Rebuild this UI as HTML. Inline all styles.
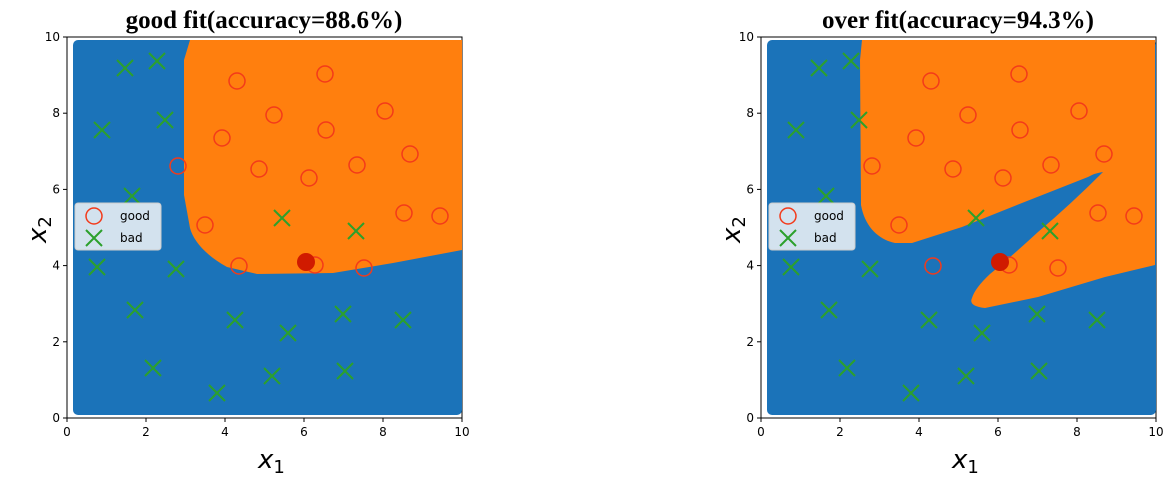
<!DOCTYPE html>
<html><head><meta charset="utf-8"><style>
body{margin:0;background:#fff;width:1169px;height:487px;overflow:hidden}
svg text{font-family:"DejaVu Sans","Liberation Sans",sans-serif}
</style></head><body>
<svg id="s" width="1169" height="487" viewBox="0 0 1169 487" xmlns="http://www.w3.org/2000/svg">
<g id="p1">
<rect x="67" y="37" width="395" height="381" fill="#fff" stroke="#000" stroke-width="1"/>
<rect x="73" y="40" width="389" height="375" rx="5" fill="#1b73b9"/>
<path d="M190,40 L462,40 L462,250 L393,263 L333,273 L257,274 L227,267 C205,255 193,240 190,228 L184,195 L184,60 Z" fill="#ff7f0e"/>
<text x="264" y="28" text-anchor="middle" style="font-family:'Liberation Serif',serif;font-weight:bold;font-size:25px">good fit(accuracy=88.6%)</text>
</g>
<g id="p2">
<rect x="761" y="37" width="395" height="381" fill="#fff" stroke="#000" stroke-width="1"/>
<rect x="767" y="40" width="389" height="375" rx="5" fill="#1b73b9"/>
<path d="M862,40 L1155,40 L1155,265 L1105,277 L1038,297 L985,308 Q968,306 972,298 Q975,288 990,274 Q1012,256 1038,232 Q1070,205 1103,172 Q1095,173 1088,177 L1022,203 L962,227 L912,243 L895,243 C880,240 865,228 861,205 L860,60 Z" fill="#ff7f0e"/>
<text x="958" y="28" text-anchor="middle" style="font-family:'Liberation Serif',serif;font-weight:bold;font-size:25px">over fit(accuracy=94.3%)</text>
</g>
<g id="marks"></g>
<g id="axes" font-size="12" fill="#000"></g>
</svg>
<script>
var ns="http://www.w3.org/2000/svg",m=document.getElementById('marks'),ax=document.getElementById('axes');
function el(t,a,p){var e=document.createElementNS(ns,t);for(var k in a)e.setAttribute(k,a[k]);(p||m).appendChild(e);return e;}
var circ=[[237,81],[325,74],[222,138],[274,115],[326,130],[385,111],[178,166],[259,169],[309,178],[357,165],[410,154],[205,225],[404,213],[440,216],[239,266],[315,265],[364,268]];
var crs=[[125,68],[157,61],[102,130],[165,120],[132,196],[282,218],[356,231],[97,267],[176,269],[135,310],[235,320],[288,333],[343,314],[403,320],[153,368],[272,376],[345,371],[217,393]];
[0,694].forEach(function(o){
 circ.forEach(function(c){el('circle',{cx:c[0]+o,cy:c[1],r:8,fill:'none',stroke:'#f33a1a','stroke-width':1.5});});
 crs.forEach(function(c){var x=c[0]+o,y=c[1];el('path',{d:'M'+(x-8)+','+(y-8)+'L'+(x+8)+','+(y+8)+'M'+(x+8)+','+(y-8)+'L'+(x-8)+','+(y+8),stroke:'#2ca02c','stroke-width':2});});
 el('circle',{cx:306+o,cy:262,r:9,fill:'#d01a00'});
 el('rect',{x:75+o,y:203,width:86,height:47,rx:3,fill:'#e8eef4','fill-opacity':0.9,stroke:'#ccc'});
 el('circle',{cx:94+o,cy:216,r:8,fill:'none',stroke:'#f33a1a','stroke-width':1.5});
 el('path',{d:'M'+(86+o)+',230L'+(102+o)+',246M'+(102+o)+',230L'+(86+o)+',246',stroke:'#2ca02c','stroke-width':2});
 var t=el('text',{x:120+o,y:220,'font-size':12});t.textContent='good';
 t=el('text',{x:120+o,y:242,'font-size':12});t.textContent='bad';
 for(var i=0;i<=5;i++){
  var x=67+o+i*79,y=418-i*76.2;
  el('line',{x1:x,y1:418,x2:x,y2:422,stroke:'#000'},ax);
  t=el('text',{x:x,y:436,'text-anchor':'middle'},ax);t.textContent=i*2;
  el('line',{x1:63+o,y1:y,x2:67+o,y2:y,stroke:'#000'},ax);
  t=el('text',{x:60+o,y:y+4,'text-anchor':'end'},ax);t.textContent=i*2;
 }
 t=el('text',{x:258+o,y:468,'font-size':26,'font-style':'italic'},ax);t.innerHTML='x<tspan font-size="18" font-style="normal" dy="5">1</tspan>';
 t=el('text',{x:0,y:0,'font-size':26,'font-style':'italic'},ax);
 t.setAttribute('transform','translate('+(46+o)+',243) rotate(-90)');
 t.innerHTML='x<tspan font-size="18" font-style="normal" dy="5">2</tspan>';
});
</script>
</body></html>
